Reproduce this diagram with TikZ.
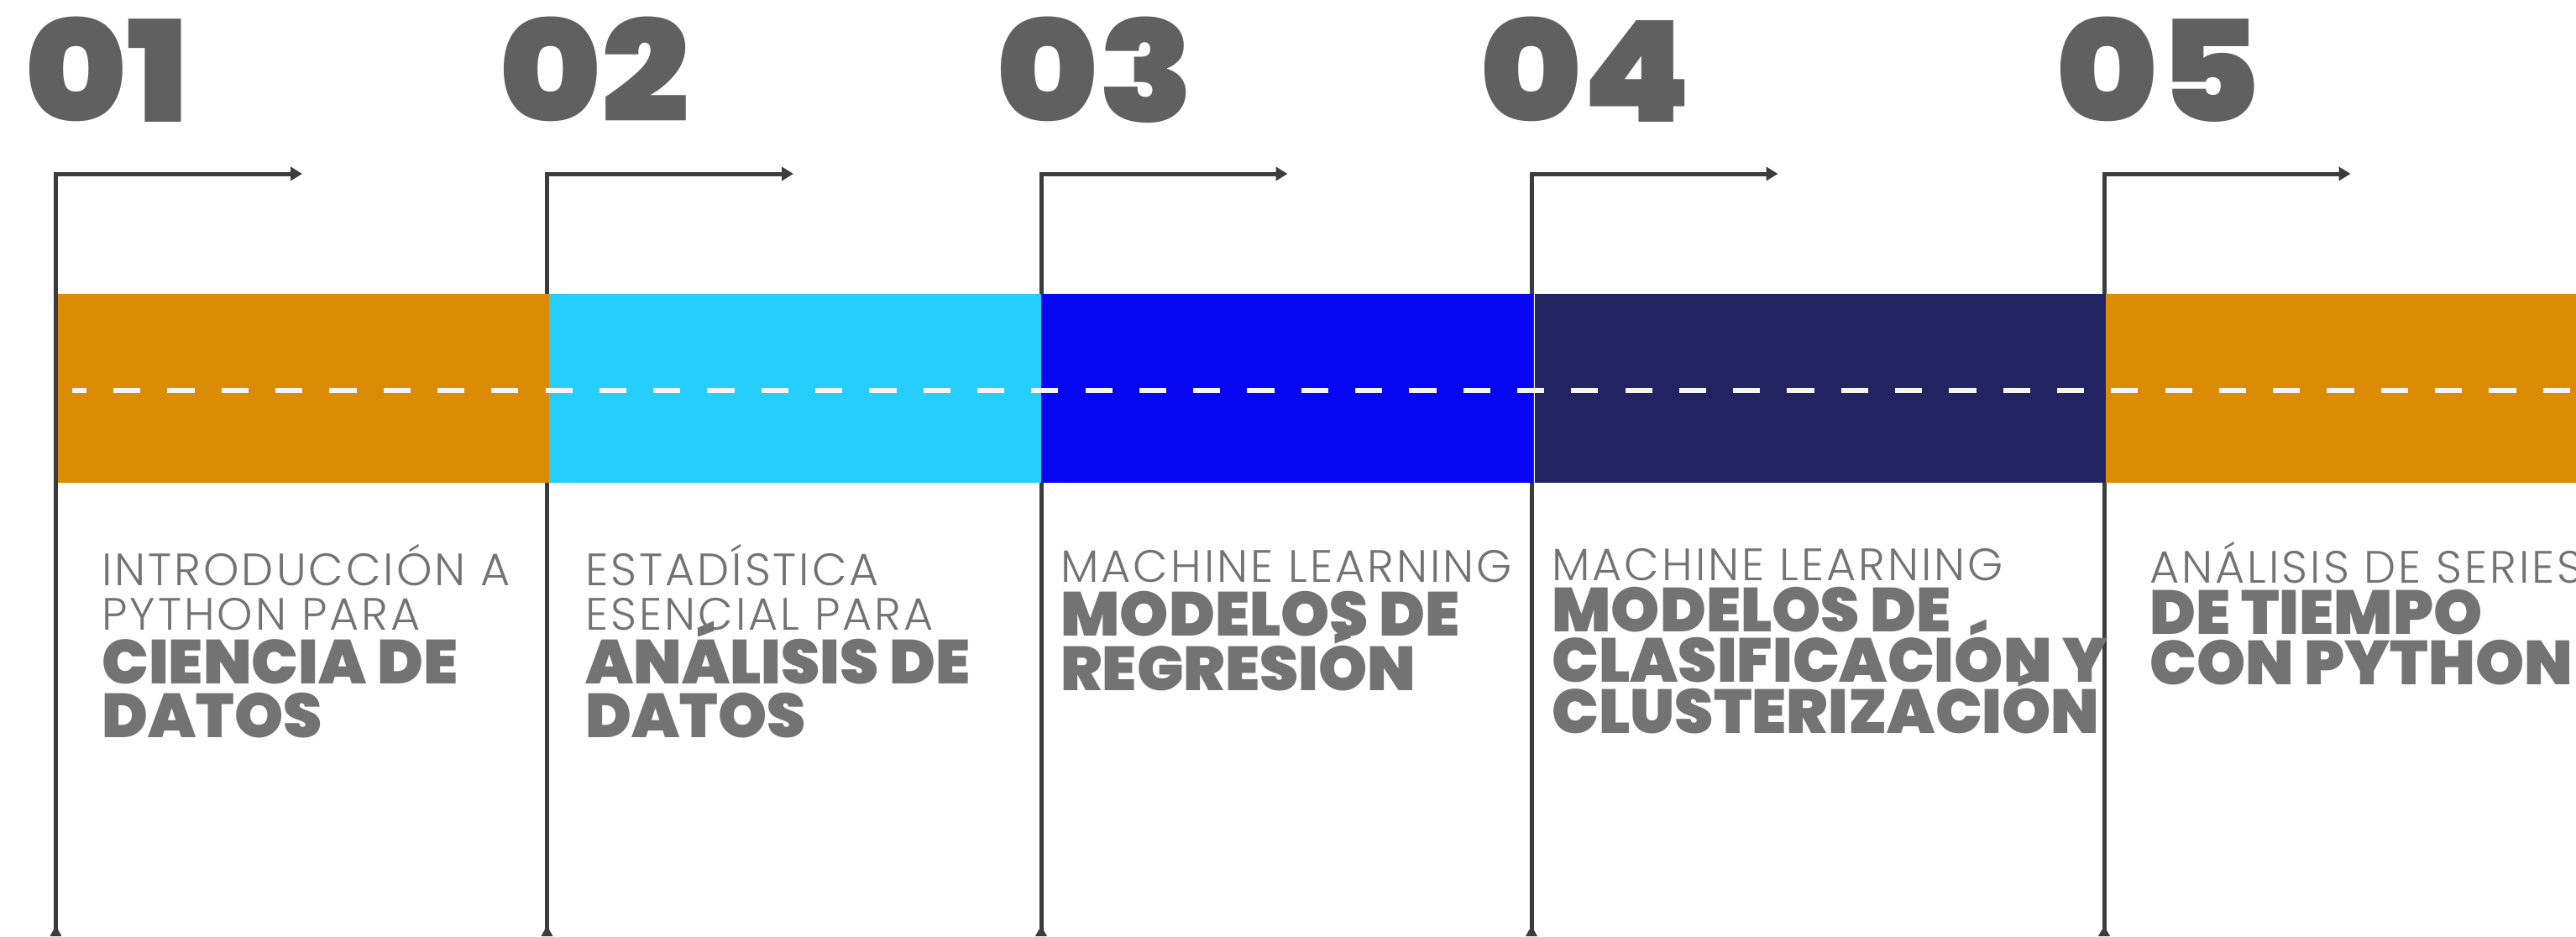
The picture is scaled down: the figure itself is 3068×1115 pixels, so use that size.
\documentclass[tikz,border=0pt]{standalone}
\usepackage{fontspec}
\usetikzlibrary{arrows.meta}
\newfontfamily\numfont{Poppins Black}[FakeStretch=1.1]
\newfontfamily\heavyfont{Poppins Black}
\newfontfamily\thinfont{Poppins Light}[LetterSpace=5.5]

\definecolor{numgray}{HTML}{606060}
\definecolor{txtgray}{HTML}{737373}
\definecolor{linegray}{HTML}{3C3C3C}
\definecolor{bandorange}{HTML}{DC8B04}
\definecolor{bandcyan}{HTML}{26CEFE}
\definecolor{bandblue}{HTML}{0606F0}
\definecolor{bandnavy}{HTML}{222461}
\definecolor{dashwhite}{HTML}{F4F4F4}

\tikzset{
  stepnum/.style={anchor=base west, inner sep=0pt, text=numgray,
    font=\numfont\fontsize{84}{84}\selectfont},
  thinline/.style={anchor=base west, inner sep=0pt, text=txtgray,
    font=\thinfont\fontsize{27}{27}\selectfont},
  heavyline/.style={anchor=base west, inner sep=0pt, text=txtgray,
    font=\heavyfont\fontsize{37}{37}\selectfont},
  rail/.style={draw=linegray, line width=2.5pt},
  pointer/.style={rail, -{Triangle[length=7pt,width=8pt]}},
}

\begin{document}
\begin{tikzpicture}[x=0.5pt,y=-0.5pt]
  \useasboundingbox (0,0) rectangle (3068,1115);
  \clip (0,0) rectangle (3068,1115);

  % step rails: vertical from the bottom edge, then right with an arrow
  \foreach \i/\x in {1/66.5,2/651.5,3/1240,4/1824,5/2506}{
    \coordinate (foot\i) at (\x,1115);
    \coordinate (corner\i) at (\x,207);
    \coordinate (tip\i) at (\x+293.5,207);
    \draw[pointer] (foot\i) -- (corner\i) -- (tip\i);
    \fill[linegray] (\x-2.5,1107) -- (\x+2.5,1107) -- (\x+7,1115) -- (\x-7,1115) -- cycle;
  }

  % coloured band
  \fill[bandorange] (69,350) rectangle (654,575);
  \fill[bandcyan]   (654,350) rectangle (1239.5,575);
  \fill[bandblue]   (1239.5,350) rectangle (1826,575);
  \fill[bandnavy]   (1828,350) rectangle (2508,575);
  \fill[bandorange] (2508,350) rectangle (3068,575);

  % centre dashes
  \coordinate (dashA) at (86,465);
  \coordinate (dashB) at (3080,465);
  \draw[dashwhite, line width=2.6pt, dash pattern=on 16.1pt off 16.05pt, dash phase=7.6pt] (dashA) -- (dashB);

  % step numbers
  \node[stepnum] (n1) at (29,145)   {01};
  \node[stepnum] (n2) at (594,145)  {02};
  \node[stepnum] (n3) at (1186,145) {03};
  \node[stepnum] (n4) at (1762,145) {04};
  \node[stepnum] (n5) at (2448,145) {05};

  % step 1
  \node[thinline]  (t1a) at (121,697) {INTRODUCCIÓN A};
  \node[thinline]  (t1b) at (121,750) {PYTHON PARA};
  \node[heavyline] (t1c) at (121,814) {CIENCIA DE};
  \node[heavyline] (t1d) at (121,878) {DATOS};

  % step 2
  \node[thinline]  (t2a) at (697,697) {ESTADÍSTICA};
  \node[thinline]  (t2b) at (697,750) {ESENCIAL PARA};
  \node[heavyline] (t2c) at (697,814) {ANÁLISIS DE};
  \node[heavyline] (t2d) at (697,878) {DATOS};

  % step 3
  \node[thinline]  (t3a) at (1263,693) {MACHINE LEARNING};
  \node[heavyline] (t3b) at (1263,757) {MODELOS DE};
  \node[heavyline] (t3c) at (1263,822) {REGRESIÓN};

  % step 4
  \node[thinline]  (t4a) at (1848,691) {MACHINE LEARNING};
  \node[heavyline] (t4b) at (1848,752) {MODELOS DE};
  \node[heavyline] (t4c) at (1848,812) {CLASIFICACIÓN Y};
  \node[heavyline] (t4d) at (1848,873) {CLUSTERIZACIÓN};

  % step 5
  \node[thinline]  (t5a) at (2560,694) {ANÁLISIS DE SERIES};
  \node[heavyline] (t5b) at (2560,755) {DE TIEMPO};
  \node[heavyline] (t5c) at (2560,815) {CON PYTHON};
\end{tikzpicture}
\end{document}
